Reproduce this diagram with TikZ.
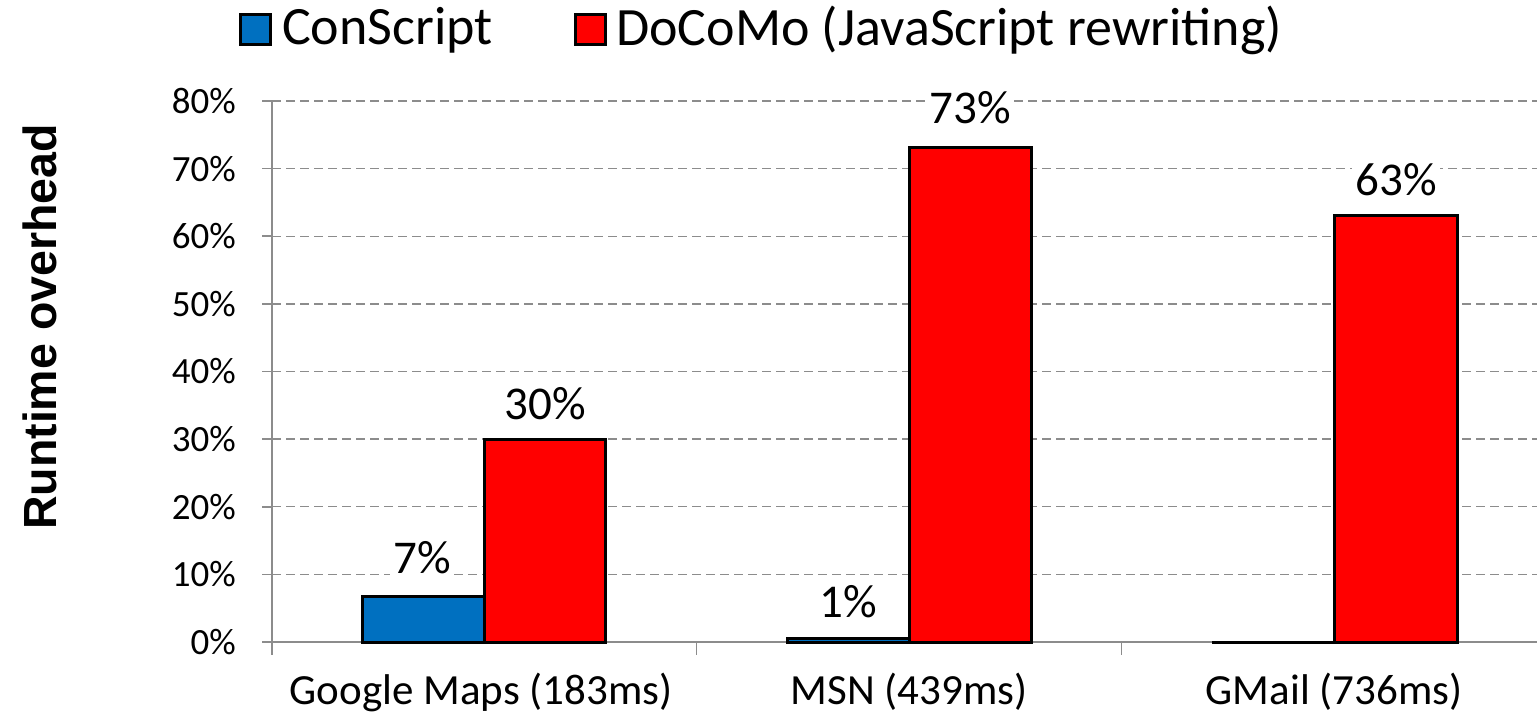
\documentclass[tikz,border=0pt]{standalone}
\usepackage{fontspec}
\setmainfont{Carlito}
\newfontfamily\titlefont{Liberation Sans}
\definecolor{barblue}{HTML}{0070C0}
\definecolor{barred}{HTML}{FF0000}
\definecolor{gridgray}{HTML}{8C8C8C}
\begin{document}
\begin{tikzpicture}[x=1pt,y=-1pt,
  gridline/.style={gridgray,line width=1.4pt,dash pattern=on 9pt off 5pt},
  axisline/.style={gridgray,line width=1.6pt},
  bar/.style={draw=black,line width=3pt,line join=miter},
  ticklab/.style={anchor=east,inner sep=0pt,font=\fontsize{37}{40}\selectfont},
  catlab/.style={anchor=center,inner sep=0pt,font=\fontsize{43}{48}\selectfont},
  vallab/.style={anchor=center,fill=white,inner sep=3pt,font=\fontsize{47}{52}\selectfont},
  legtext/.style={anchor=west,inner sep=0pt,font=\fontsize{54}{58}\selectfont},
  legbox/.style={draw=black,line width=3pt,minimum width=30pt,minimum height=30pt,inner sep=0pt}
]
\useasboundingbox (0,0) rectangle (1537,719);
% gridlines
\foreach \v in {1,...,8}{
  \draw[gridline] (272,{642-\v*67.625}) -- (1537,{642-\v*67.625});
  \draw[axisline] (262,{642-\v*67.625}) -- (272,{642-\v*67.625});
}
\draw[axisline] (262,642) -- (1537,642);
\draw[axisline] (272,101) -- (272,655);
\draw[axisline] (696.5,642) -- (696.5,655);
\draw[axisline] (1121.5,642) -- (1121.5,655);
% tick labels
\foreach \v/\t in {0/0,1/10,2/20,3/30,4/40,5/50,6/60,7/70,8/80}{
  \node[ticklab] (t\v) at (236,{642-\v*67.625}) {\t\%};
}
% value labels
\node[vallab] (l1) at (422,558) {7\%};
\node[vallab] (l2) at (545,404) {30\%};
\node[vallab] (l3) at (848,602) {1\%};
\node[vallab] (l4) at (970,108) {73\%};
\node[vallab] (l5) at (1396,180) {63\%};
% bars
\draw[bar,fill=barblue] (362,642) rectangle (484,596.5);
\draw[bar,fill=barred] (484,642) rectangle (605,439);
\draw[bar,fill=barblue] (787,642) rectangle (909,638.5);
\draw[bar,fill=barred] (909,642) rectangle (1031,148);
\draw[bar,fill=barblue] (1212,642) rectangle (1334,642);
\draw[bar,fill=barred] (1334,642) rectangle (1457,215.5);
% category labels
\node[catlab] (c1) at (481,692) {Google Maps (183ms)};
\node[catlab] (c2) at (909,692) {MSN (439ms)};
\node[catlab] (c3) at (1334,692) {GMail (736ms)};
% axis title
\node[rotate=90,font=\titlefont\bfseries\fontsize{46.5}{50}\selectfont,inner sep=0pt] (yt) at (40,327) {Runtime overhead};
% legend
\node[legbox,fill=barblue] (lb1) at (255.5,30) {};
\node[legtext] (lt1) at (282,30) {ConScript};
\node[legbox,fill=barred] (lb2) at (590,30) {};
\node[legtext] (lt2) at (616,30) {DoCoMo (JavaScript rewriting)};
\end{tikzpicture}
\end{document}
